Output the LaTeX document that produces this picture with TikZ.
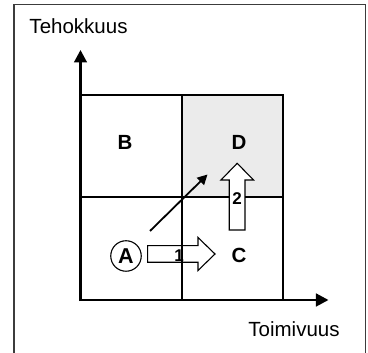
\documentclass[tikz,border=0pt]{standalone}
\usepackage{fontspec}
\setmainfont{Liberation Sans}
\usetikzlibrary{arrows.meta}
\definecolor{quadgray}{RGB}{235,235,235}
\definecolor{framegray}{RGB}{60,60,60}
\begin{document}
\begin{tikzpicture}[x=1pt,y=1pt,
  axisline/.style={line width=2.4pt,-{Triangle[length=12.5pt,width=12.7pt]}},
  gridline/.style={line width=1.2pt},
  quadlabel/.style={font=\fontsize{20.5}{20.5}\selectfont\bfseries,inner sep=0pt},
  numlabel/.style={font=\fontsize{17}{17}\selectfont\bfseries,inner sep=0pt},
  axislabel/.style={font=\fontsize{20.5}{20.5}\selectfont,inner sep=0pt},
  blockarrow/.style={line width=1.1pt,line join=miter}]
\useasboundingbox (0,0) rectangle (368,353);
% frame
\draw[framegray,line width=1pt] (14,0) -- (14,348) -- (366,348) -- (366,0);
% gray quadrant
\fill[quadgray] (182,156) rectangle (283,258);
% grid
\draw[gridline] (80.5,258) -- (283,258) -- (283,53);
\draw[gridline] (182,258) -- (182,53);
\draw[gridline] (80.5,156) -- (283,156);
% axes
\coordinate (O) at (80.5,53);
\coordinate (ytip) at (80.5,303);
\coordinate (xtip) at (328.5,53);
\draw[axisline] (80.5,51.8) -- (ytip);
\draw[axisline] (79.3,53) -- (xtip);
% axis labels
\node[axislabel,anchor=base west] (ylab) at (29.3,319.7) {Tehokkuus};
\node[axislabel,anchor=base] (xlab) at (294,16.5) {Toimivuus};
% quadrant labels
\node[quadlabel] (B) at (125,211) {B};
\node[quadlabel] (D) at (239,211) {D};
\node[quadlabel] (C) at (239,98) {C};
% A circle
\node[circle,draw,line width=1.1pt,minimum size=30.5pt,inner sep=0pt,
      font=\fontsize{21.5}{21.5}\selectfont\bfseries] (A) at (126,97) {A};
% block arrow 1
\draw[blockarrow] (147.7,90.7) -- (198,90.7) -- (198,82.5) -- (215,99)
  -- (198,115.5) -- (198,107.3) -- (147.7,107.3) -- cycle;
\node[numlabel] (n1) at (179,97.5) {1};
% block arrow 2
\filldraw[blockarrow,fill=white] (229.3,123) -- (229.3,173) -- (221,173) -- (237.2,189.7)
  -- (253.5,173) -- (245,173) -- (245,123) -- cycle;
\node[numlabel] (n2) at (237,154.7) {2};
% diagonal arrow
\coordinate (dstart) at (150,122);
\coordinate (dend) at (207.5,178.5);
\draw[line width=1.8pt,-{Triangle[length=10pt,width=10pt]}] (dstart) -- (dend);
\end{tikzpicture}
\end{document}
